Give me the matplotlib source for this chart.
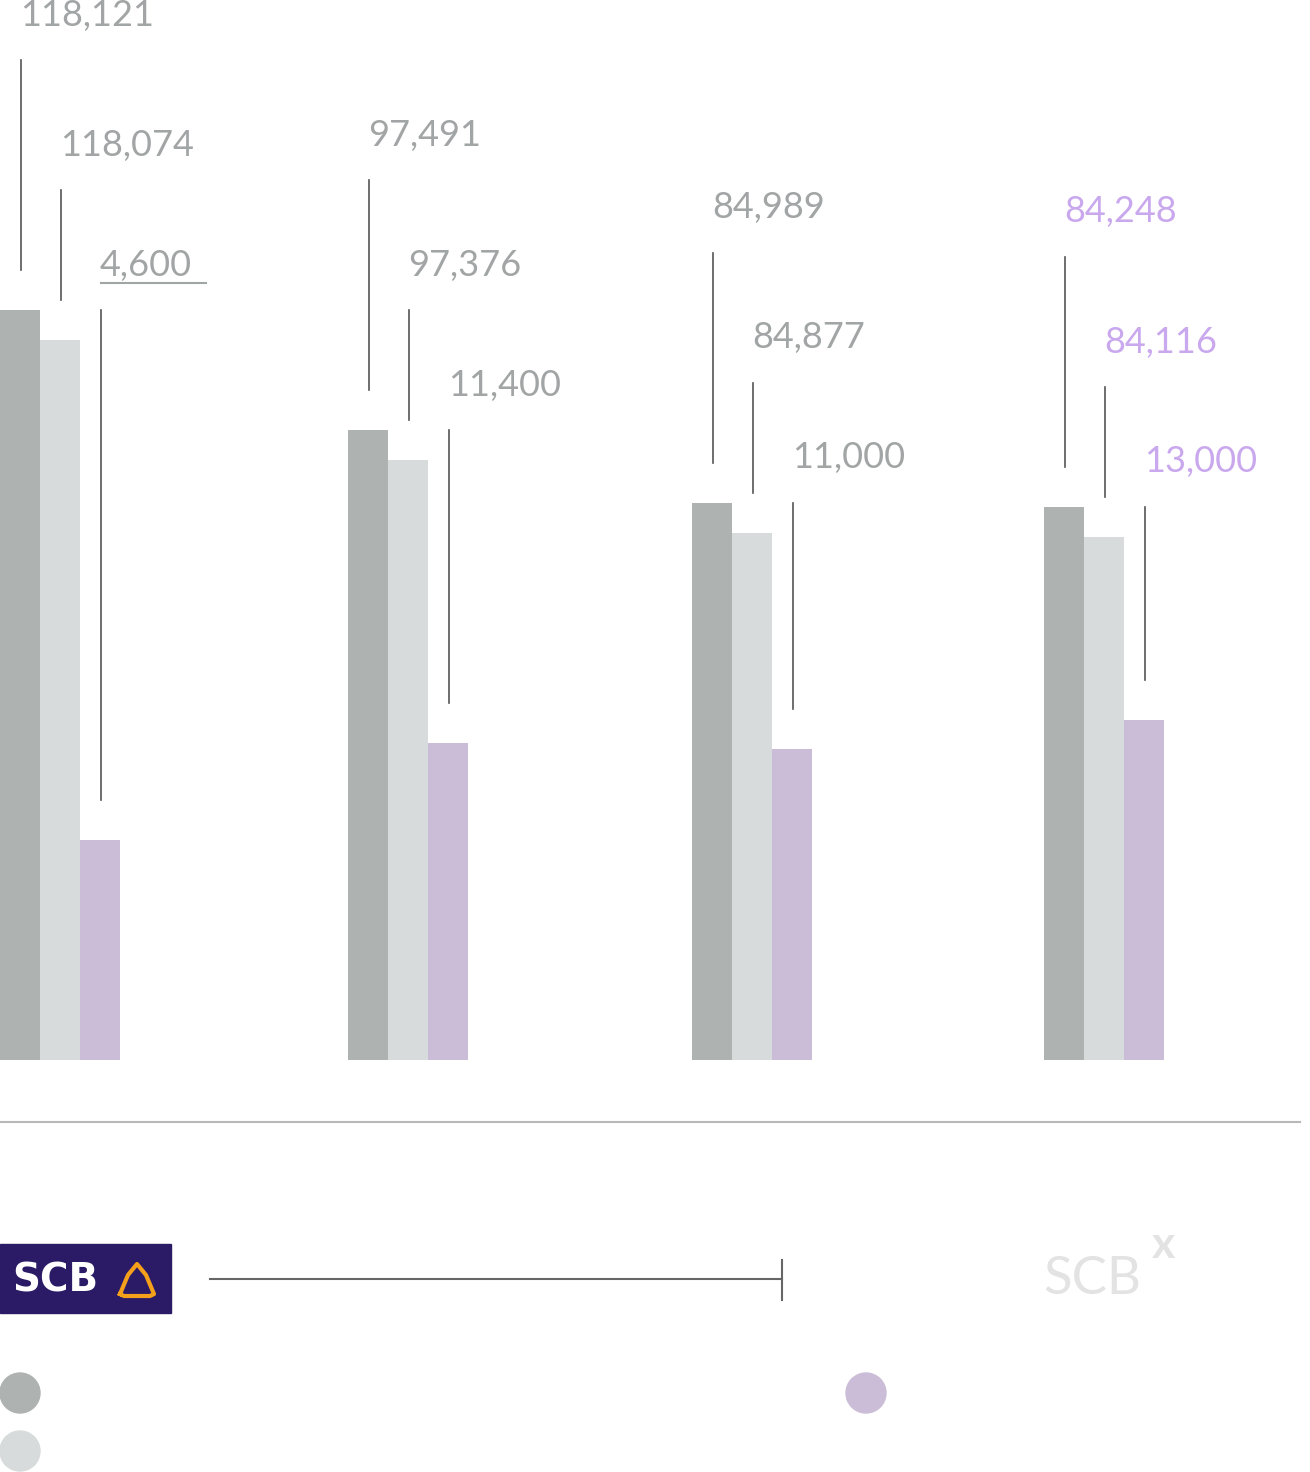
import numpy as np
import matplotlib.pyplot as plt
from matplotlib.patches import Circle, Rectangle

W, H = 1310, 1472
BASE = 1060  # baseline pixel row (from top)

groups = ["g1", "g2", "g3", "g4"]
dark_vals = [118121, 97491, 84989, 84248]
light_vals = [118074, 97376, 84877, 84116]
purple_vals = [4600, 11400, 11000, 13000]
dark_labels = ["118,121", "97,491", "84,989", "84,248"]
light_labels = ["118,074", "97,376", "84,877", "84,116"]
purple_labels = ["4,600", "11,400", "11,000", "13,000"]

group_x = [0, 348, 692, 1044]
bw = 40
c_dark, c_light, c_purple = "#aeb2b1", "#d7dbdb", "#cbbdd7"
c_text = "#a2a5a5"
c_hi = "#c9a8ee"

fig = plt.figure(figsize=(W / 100, H / 100), dpi=100)
# overlay axis in pixel coords, origin top-left
ov = fig.add_axes([0, 0, 1, 1])
ov.set_xlim(0, W)
ov.set_ylim(H, 0)
ov.axis("off")

# each series on its own value scale: height_px = off + slope * v
scales = {"dark": (64.5, 0.0058), "light": (35.1, 0.0058), "purple": (154.3, 0.014286)}


def make_ax(key):
    off, sl = scales[key]
    a = fig.add_axes([0, 1 - BASE / H, 1, BASE / H], zorder=1)
    a.patch.set_alpha(0)
    a.set_xlim(0, W)
    a.set_ylim(-off / sl, (BASE - off) / sl)
    a.axis("off")
    return a


def top_px(a, x, v):
    return H - a.transData.transform((x, v))[1]


ax_d, ax_l, ax_p = make_ax("dark"), make_ax("light"), make_ax("purple")
for a, vals, dx, c in ((ax_d, dark_vals, 0, c_dark), (ax_l, light_vals, bw, c_light),
                       (ax_p, purple_vals, 2 * bw, c_purple)):
    lo = a.get_ylim()[0]
    a.bar([g + dx for g in group_x], [v - lo for v in vals], width=bw, align="edge",
          color=c, bottom=lo)

fs = 26
fam = "Lato"
for i, gx in enumerate(group_x):
    col = c_hi if i == 3 else c_text
    td = top_px(ax_d, gx, dark_vals[i])
    tl = top_px(ax_l, gx, light_vals[i])
    tp = top_px(ax_p, gx, purple_vals[i])
    specs = [(gx + 21, td, td - 250, dark_labels[i]),
             (gx + 61, tl, tl - 150, light_labels[i]),
             (gx + 101, tp, td, purple_labels[i])]
    for x, t, ltop, lab in specs:
        ov.plot([x, x], [t - 40, ltop], color="#555555", lw=1.2)
        ov.text(x - 1, ltop - 45, lab, fontsize=fs, family=fam, weight="normal",
                color=col, ha="left", va="center")
        if i == 0 and lab == "4,600":
            ov.plot([x, x + 105], [ltop - 27, ltop - 27], color=col, lw=1.5)

# separator
ov.plot([0, 1300], [1122, 1122], color="#b8b8b8", lw=1.5)

# SCB logo
ov.add_patch(Rectangle((0, 1244), 171, 69, color="#2b1b66"))
ov.text(12, 1280, "SCB", fontsize=28, weight="bold", family="DejaVu Sans", color="white", va="center")
ov.plot([120, 128, 137, 146, 154, 150, 124, 120], [1294, 1275, 1264, 1275, 1294, 1296, 1296, 1294],
        color="#f5a01a", lw=3)
ov.plot([210, 782], [1279, 1279], color="#666666", lw=1.5)
ov.plot([782, 782], [1260, 1300], color="#666666", lw=1.5)
ov.text(1043, 1280, "SCB", fontsize=38, family="Lato", color="#e3e3e3", va="center")
ov.text(1152, 1245, "x", fontsize=32, weight="bold", family="Lato", color="#e3e3e3", va="center")

# legend dots
for (cx, cy), c in (((20, 1393), c_dark), ((20, 1451), c_light), ((866, 1393), c_purple)):
    ov.add_patch(Circle((cx, cy), 20, color=c))

fig.savefig("out.png", dpi=100)
